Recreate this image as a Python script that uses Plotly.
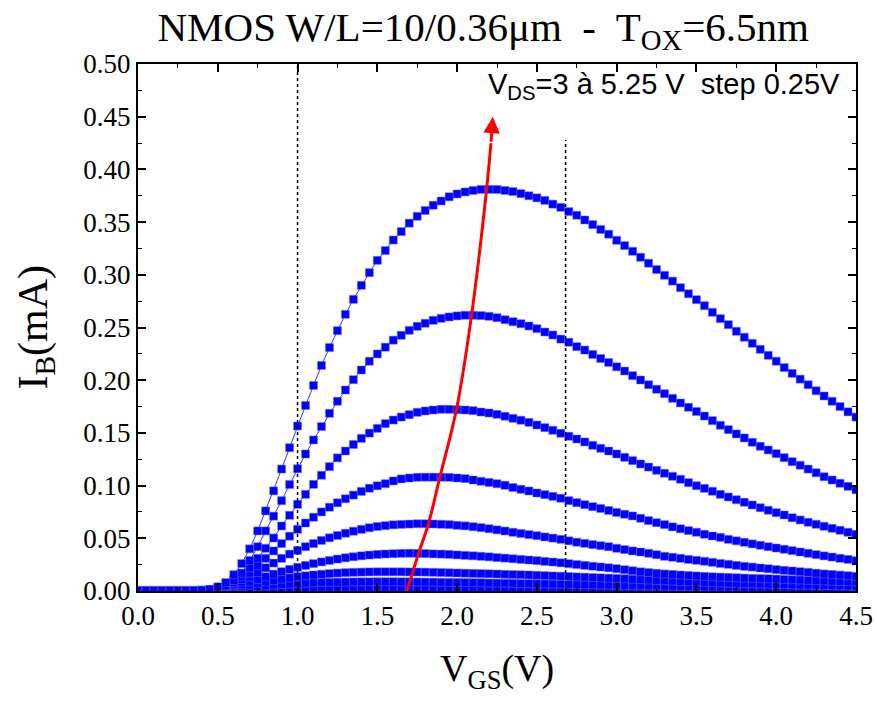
import plotly.graph_objects as go

# ---------------- data ----------------
VGS = [round(0.05 * i, 2) for i in range(91)]  # V, 0.00 .. 4.50 step 0.05
VDS_LABELS = ["3.00", "3.25", "3.50", "3.75", "4.00", "4.25", "4.50", "4.75", "5.00", "5.25"]

IB_300 = [0.0002, 0.0002, 0.0002, 0.0002, 0.0002, 0.0002, 0.0002, 0.0002, 0.0002, 0.0003,
          0.0003, 0.0004, 0.0005, 0.0006, 0.0007, 0.0008, 0.0009, 0.0010, 0.0010, 0.0011,
          0.0011, 0.0012, 0.0012, 0.0012, 0.0012, 0.0012, 0.0012, 0.0012, 0.0012, 0.0012,
          0.0012, 0.0012, 0.0011, 0.0011, 0.0011, 0.0011, 0.0011, 0.0011, 0.0010, 0.0010,
          0.0010, 0.0010, 0.0010, 0.0010, 0.0009, 0.0009, 0.0009, 0.0009, 0.0009, 0.0009,
          0.0008, 0.0008, 0.0008, 0.0008, 0.0008, 0.0008, 0.0008, 0.0008, 0.0008, 0.0008,
          0.0008, 0.0007, 0.0007, 0.0007, 0.0007, 0.0007, 0.0007, 0.0006, 0.0006, 0.0006,
          0.0006, 0.0006, 0.0006, 0.0006, 0.0006, 0.0006, 0.0006, 0.0006, 0.0006, 0.0006,
          0.0005, 0.0005, 0.0005, 0.0005, 0.0005, 0.0005, 0.0005, 0.0005, 0.0005, 0.0005,
          0.0005]
IB_325 = [0.0003, 0.0003, 0.0003, 0.0003, 0.0003, 0.0003, 0.0003, 0.0003, 0.0003, 0.0004,
          0.0005, 0.0007, 0.0010, 0.0013, 0.0016, 0.0019, 0.0022, 0.0025, 0.0027, 0.0029,
          0.0031, 0.0032, 0.0033, 0.0034, 0.0034, 0.0035, 0.0035, 0.0035, 0.0035, 0.0035,
          0.0035, 0.0034, 0.0034, 0.0034, 0.0033, 0.0033, 0.0033, 0.0032, 0.0032, 0.0031,
          0.0031, 0.0030, 0.0030, 0.0029, 0.0029, 0.0028, 0.0028, 0.0027, 0.0027, 0.0026,
          0.0026, 0.0025, 0.0025, 0.0024, 0.0024, 0.0023, 0.0023, 0.0022, 0.0022, 0.0021,
          0.0021, 0.0020, 0.0020, 0.0019, 0.0019, 0.0018, 0.0018, 0.0017, 0.0017, 0.0017,
          0.0016, 0.0016, 0.0015, 0.0015, 0.0015, 0.0014, 0.0014, 0.0014, 0.0013, 0.0013,
          0.0013, 0.0012, 0.0012, 0.0012, 0.0012, 0.0011, 0.0011, 0.0011, 0.0011, 0.0010,
          0.0010]
IB_350 = [0.0004, 0.0004, 0.0004, 0.0004, 0.0004, 0.0004, 0.0004, 0.0004, 0.0004, 0.0005,
          0.0008, 0.0012, 0.0018, 0.0025, 0.0033, 0.0041, 0.0049, 0.0056, 0.0062, 0.0067,
          0.0071, 0.0075, 0.0078, 0.0080, 0.0082, 0.0084, 0.0085, 0.0086, 0.0087, 0.0087,
          0.0088, 0.0088, 0.0088, 0.0087, 0.0087, 0.0086, 0.0085, 0.0084, 0.0083, 0.0082,
          0.0081, 0.0080, 0.0079, 0.0078, 0.0076, 0.0075, 0.0074, 0.0073, 0.0071, 0.0070,
          0.0069, 0.0067, 0.0066, 0.0065, 0.0063, 0.0062, 0.0060, 0.0059, 0.0057, 0.0056,
          0.0054, 0.0053, 0.0051, 0.0050, 0.0048, 0.0047, 0.0045, 0.0044, 0.0043, 0.0041,
          0.0040, 0.0039, 0.0038, 0.0037, 0.0036, 0.0035, 0.0034, 0.0033, 0.0032, 0.0031,
          0.0030, 0.0029, 0.0029, 0.0028, 0.0027, 0.0027, 0.0026, 0.0026, 0.0025, 0.0025,
          0.0024]
IB_375 = [0.0004, 0.0004, 0.0004, 0.0004, 0.0004, 0.0004, 0.0004, 0.0004, 0.0005, 0.0006,
          0.0010, 0.0017, 0.0027, 0.0040, 0.0055, 0.0070, 0.0085, 0.0099, 0.0112, 0.0124,
          0.0135, 0.0144, 0.0152, 0.0159, 0.0165, 0.0170, 0.0174, 0.0177, 0.0179, 0.0181,
          0.0182, 0.0182, 0.0182, 0.0182, 0.0181, 0.0180, 0.0179, 0.0177, 0.0175, 0.0173,
          0.0171, 0.0169, 0.0167, 0.0165, 0.0163, 0.0161, 0.0158, 0.0156, 0.0154, 0.0152,
          0.0149, 0.0146, 0.0143, 0.0140, 0.0137, 0.0134, 0.0131, 0.0128, 0.0125, 0.0122,
          0.0119, 0.0116, 0.0112, 0.0108, 0.0104, 0.0100, 0.0097, 0.0094, 0.0091, 0.0088,
          0.0085, 0.0082, 0.0079, 0.0077, 0.0075, 0.0073, 0.0071, 0.0069, 0.0067, 0.0065,
          0.0063, 0.0061, 0.0059, 0.0057, 0.0056, 0.0054, 0.0052, 0.0051, 0.0050, 0.0048,
          0.0047]
IB_400 = [0.0005, 0.0005, 0.0005, 0.0005, 0.0005, 0.0005, 0.0005, 0.0005, 0.0005, 0.0007,
          0.0012, 0.0022, 0.0038, 0.0060, 0.0085, 0.0110, 0.0135, 0.0160, 0.0183, 0.0205,
          0.0225, 0.0243, 0.0260, 0.0276, 0.0290, 0.0303, 0.0315, 0.0325, 0.0334, 0.0341,
          0.0347, 0.0351, 0.0354, 0.0357, 0.0358, 0.0357, 0.0355, 0.0352, 0.0350, 0.0347,
          0.0342, 0.0338, 0.0334, 0.0329, 0.0324, 0.0317, 0.0312, 0.0306, 0.0300, 0.0294,
          0.0288, 0.0281, 0.0275, 0.0267, 0.0259, 0.0251, 0.0243, 0.0235, 0.0228, 0.0220,
          0.0212, 0.0202, 0.0192, 0.0182, 0.0175, 0.0168, 0.0162, 0.0157, 0.0152, 0.0147,
          0.0143, 0.0139, 0.0135, 0.0132, 0.0129, 0.0126, 0.0123, 0.0120, 0.0118, 0.0116,
          0.0113, 0.0110, 0.0107, 0.0104, 0.0101, 0.0098, 0.0096, 0.0093, 0.0090, 0.0088,
          0.0085]
IB_425 = [0.0005, 0.0005, 0.0005, 0.0005, 0.0005, 0.0005, 0.0005, 0.0005, 0.0005, 0.0008,
          0.0014, 0.0028, 0.0050, 0.0085, 0.0130, 0.0175, 0.0220, 0.0265, 0.0310, 0.0350,
          0.0385, 0.0420, 0.0450, 0.0480, 0.0505, 0.0527, 0.0548, 0.0567, 0.0585, 0.0600,
          0.0612, 0.0620, 0.0628, 0.0632, 0.0635, 0.0638, 0.0638, 0.0636, 0.0633, 0.0630,
          0.0623, 0.0618, 0.0610, 0.0601, 0.0591, 0.0580, 0.0569, 0.0557, 0.0546, 0.0535,
          0.0525, 0.0513, 0.0502, 0.0490, 0.0476, 0.0463, 0.0452, 0.0440, 0.0430, 0.0420,
          0.0405, 0.0393, 0.0380, 0.0370, 0.0358, 0.0344, 0.0329, 0.0320, 0.0310, 0.0300,
          0.0291, 0.0282, 0.0272, 0.0261, 0.0253, 0.0243, 0.0234, 0.0227, 0.0218, 0.0211,
          0.0203, 0.0196, 0.0190, 0.0183, 0.0177, 0.0169, 0.0162, 0.0157, 0.0151, 0.0145,
          0.0139]
IB_450 = [0.0005, 0.0005, 0.0005, 0.0005, 0.0005, 0.0005, 0.0005, 0.0005, 0.0006, 0.0009,
          0.0017, 0.0035, 0.0065, 0.0110, 0.0170, 0.0240, 0.0310, 0.0380, 0.0450, 0.0520,
          0.0585, 0.0645, 0.0700, 0.0750, 0.0795, 0.0837, 0.0875, 0.0910, 0.0945, 0.0975,
          0.0998, 0.1018, 0.1044, 0.1063, 0.1072, 0.1079, 0.1080, 0.1080, 0.1080, 0.1078,
          0.1072, 0.1066, 0.1053, 0.1041, 0.1030, 0.1018, 0.1003, 0.0982, 0.0965, 0.0949,
          0.0930, 0.0914, 0.0898, 0.0880, 0.0857, 0.0838, 0.0819, 0.0800, 0.0783, 0.0764,
          0.0745, 0.0728, 0.0712, 0.0690, 0.0668, 0.0648, 0.0630, 0.0608, 0.0590, 0.0573,
          0.0557, 0.0538, 0.0522, 0.0509, 0.0490, 0.0476, 0.0462, 0.0447, 0.0434, 0.0420,
          0.0408, 0.0396, 0.0383, 0.0370, 0.0358, 0.0345, 0.0333, 0.0322, 0.0310, 0.0300,
          0.0288]
IB_475 = [0.0005, 0.0005, 0.0005, 0.0005, 0.0005, 0.0005, 0.0005, 0.0005, 0.0006, 0.0010,
          0.0020, 0.0040, 0.0080, 0.0140, 0.0220, 0.0310, 0.0405, 0.0503, 0.0617, 0.0718,
          0.0822, 0.0917, 0.1012, 0.1098, 0.1180, 0.1263, 0.1328, 0.1390, 0.1448, 0.1498,
          0.1543, 0.1588, 0.1622, 0.1650, 0.1673, 0.1695, 0.1708, 0.1717, 0.1724, 0.1724,
          0.1720, 0.1717, 0.1711, 0.1698, 0.1689, 0.1676, 0.1658, 0.1638, 0.1620, 0.1600,
          0.1575, 0.1550, 0.1525, 0.1496, 0.1468, 0.1442, 0.1414, 0.1382, 0.1354, 0.1328,
          0.1300, 0.1268, 0.1237, 0.1205, 0.1176, 0.1145, 0.1117, 0.1088, 0.1060, 0.1028,
          0.0999, 0.0974, 0.0946, 0.0917, 0.0892, 0.0866, 0.0842, 0.0816, 0.0790, 0.0766,
          0.0743, 0.0721, 0.0695, 0.0674, 0.0652, 0.0633, 0.0614, 0.0595, 0.0576, 0.0557,
          0.0538]
IB_500 = [0.0005, 0.0005, 0.0005, 0.0005, 0.0005, 0.0005, 0.0005, 0.0005, 0.0007, 0.0012,
          0.0025, 0.0050, 0.0100, 0.0170, 0.0290, 0.0420, 0.0570, 0.0710, 0.0857, 0.1010,
          0.1160, 0.1300, 0.1433, 0.1560, 0.1686, 0.1800, 0.1907, 0.2005, 0.2097, 0.2180,
          0.2249, 0.2313, 0.2380, 0.2426, 0.2473, 0.2511, 0.2540, 0.2568, 0.2587, 0.2600,
          0.2610, 0.2616, 0.2616, 0.2613, 0.2606, 0.2593, 0.2574, 0.2555, 0.2536, 0.2514,
          0.2489, 0.2457, 0.2429, 0.2390, 0.2360, 0.2318, 0.2286, 0.2244, 0.2206, 0.2168,
          0.2127, 0.2087, 0.2043, 0.2002, 0.1957, 0.1914, 0.1872, 0.1828, 0.1784, 0.1743,
          0.1703, 0.1660, 0.1616, 0.1572, 0.1531, 0.1490, 0.1452, 0.1411, 0.1373, 0.1338,
          0.1303, 0.1265, 0.1227, 0.1193, 0.1157, 0.1122, 0.1084, 0.1053, 0.1022, 0.0993,
          0.0961]
IB_525 = [0.0005, 0.0005, 0.0005, 0.0005, 0.0005, 0.0005, 0.0005, 0.0005, 0.0008, 0.0016,
          0.0040, 0.0080, 0.0155, 0.0260, 0.0400, 0.0570, 0.0760, 0.0950, 0.1157, 0.1360,
          0.1565, 0.1760, 0.1950, 0.2140, 0.2310, 0.2470, 0.2625, 0.2767, 0.2900, 0.3020,
          0.3137, 0.3230, 0.3330, 0.3410, 0.3490, 0.3555, 0.3610, 0.3660, 0.3700, 0.3740,
          0.3767, 0.3786, 0.3800, 0.3810, 0.3810, 0.3810, 0.3800, 0.3790, 0.3770, 0.3750,
          0.3730, 0.3706, 0.3670, 0.3640, 0.3600, 0.3565, 0.3520, 0.3476, 0.3430, 0.3385,
          0.3327, 0.3277, 0.3223, 0.3166, 0.3110, 0.3050, 0.2995, 0.2940, 0.2878, 0.2820,
          0.2764, 0.2707, 0.2644, 0.2584, 0.2527, 0.2464, 0.2407, 0.2350, 0.2293, 0.2236,
          0.2180, 0.2120, 0.2065, 0.2010, 0.1957, 0.1900, 0.1850, 0.1800, 0.1750, 0.1700,
          0.1650]

SERIES = [IB_300, IB_325, IB_350, IB_375, IB_400, IB_425, IB_450, IB_475, IB_500, IB_525]

# red "increasing V_DS" arrow path (through the maxima)
ARROW_V = [1.673, 1.757, 1.820, 1.892, 1.997, 2.090, 2.184, 2.212]
ARROW_I = [-0.006, 0.035, 0.0636, 0.108, 0.173, 0.261, 0.380, 0.425]
ARROW_TIP = (2.224, 0.450)

# dotted guide lines
GUIDE_V = [1.0, 2.68]
GUIDE_TOP = [0.50, 0.428]

X_TICKS = [0.0, 0.5, 1.0, 1.5, 2.0, 2.5, 3.0, 3.5, 4.0, 4.5]
Y_TICKS = [0.00, 0.05, 0.10, 0.15, 0.20, 0.25, 0.30, 0.35, 0.40, 0.45, 0.50]

# ---------------- figure ----------------
SERIF = "Liberation Serif, Times New Roman, serif"
SANS = "Liberation Sans, Arial, sans-serif"

fig = go.Figure()

for lab, ys in zip(VDS_LABELS, SERIES):
    fig.add_trace(go.Scatter(
        x=VGS[:len(ys)], y=ys, mode="lines+markers", name="V_DS=" + lab + " V",
        line=dict(color="#3333ff", width=1),
        marker=dict(symbol="square", size=8, color="#0000ff",
                    line=dict(color="rgba(110,110,255,0.8)", width=0.6)),
        showlegend=False, hoverinfo="skip"))

fig.add_trace(go.Scatter(
    x=ARROW_V, y=ARROW_I, mode="lines", line=dict(color="#ff0000", width=3, shape="spline"),
    showlegend=False, hoverinfo="skip", cliponaxis=False))

fig.add_annotation(x=ARROW_TIP[0], y=ARROW_TIP[1], ax=ARROW_V[-1], ay=ARROW_I[-1],
                   xref="x", yref="y", axref="x", ayref="y", text="", showarrow=True,
                   arrowhead=2, arrowsize=1.1, arrowwidth=3, arrowcolor="#ff0000")

for gv, gt in zip(GUIDE_V, GUIDE_TOP):
    fig.add_shape(type="line", x0=gv, x1=gv, y0=0, y1=gt, xref="x", yref="y",
                  line=dict(color="black", width=1.5, dash="dot"))

fig.add_annotation(x=4.41, y=0.479, xref="x", yref="y", xanchor="right", yanchor="middle",
                   text="V<sub>DS</sub>=3 à 5.25 V  step 0.25V", showarrow=False,
                   font=dict(family=SANS, size=29, color="black"))

# axis titles as annotations (precise placement)
fig.add_annotation(x=0, y=0.5, xref="paper", yref="paper", xanchor="center", yanchor="middle",
                   xshift=-103, text="I<sub>B</sub>(mA)", textangle=-90, showarrow=False,
                   font=dict(family=SERIF, size=42, color="black"))
fig.add_annotation(x=0.5, y=0, xref="paper", yref="paper", xanchor="center", yanchor="middle",
                   yshift=-80, text="V<sub>GS</sub>(V)", showarrow=False,
                   font=dict(family=SERIF, size=38, color="black"))

axis_common = dict(showline=True, linewidth=2, linecolor="black", mirror="ticks",
                   ticks="inside", ticklen=8, tickwidth=1.5, tickcolor="black",
                   showgrid=False, zeroline=False, automargin=False,
                   tickfont=dict(family=SERIF, size=27, color="black"))

fig.update_xaxes(range=[0, 4.5], tickvals=X_TICKS, ticktext=[f"{v:.1f}" for v in X_TICKS],
                 minor=dict(ticks="inside", ticklen=4, tickwidth=1.2, tickcolor="black", dtick=0.25,
                            showgrid=False),
                 **axis_common)
fig.update_yaxes(range=[0, 0.5], tickvals=Y_TICKS, ticktext=[f"{v:.2f}" for v in Y_TICKS],
                 minor=dict(ticks="inside", ticklen=4, tickwidth=1.2, tickcolor="black", dtick=0.025,
                            showgrid=False),
                 **axis_common)

fig.update_layout(
    width=877, height=707,
    margin=dict(l=138, r=21, t=64, b=116, autoexpand=False),
    paper_bgcolor="white", plot_bgcolor="white",
    title=dict(text="NMOS W/L=10/0.36μm  -  T<sub>OX</sub>=6.5nm", x=0.551, xanchor="center",
               xref="container", yref="container",
               y=0.962, yanchor="middle", font=dict(family=SERIF, size=41, color="black")),
)

fig.write_html("out.html", config={"displayModeBar": False},
               post_script="document.body.style.margin='0px';document.body.style.padding='0px';")
